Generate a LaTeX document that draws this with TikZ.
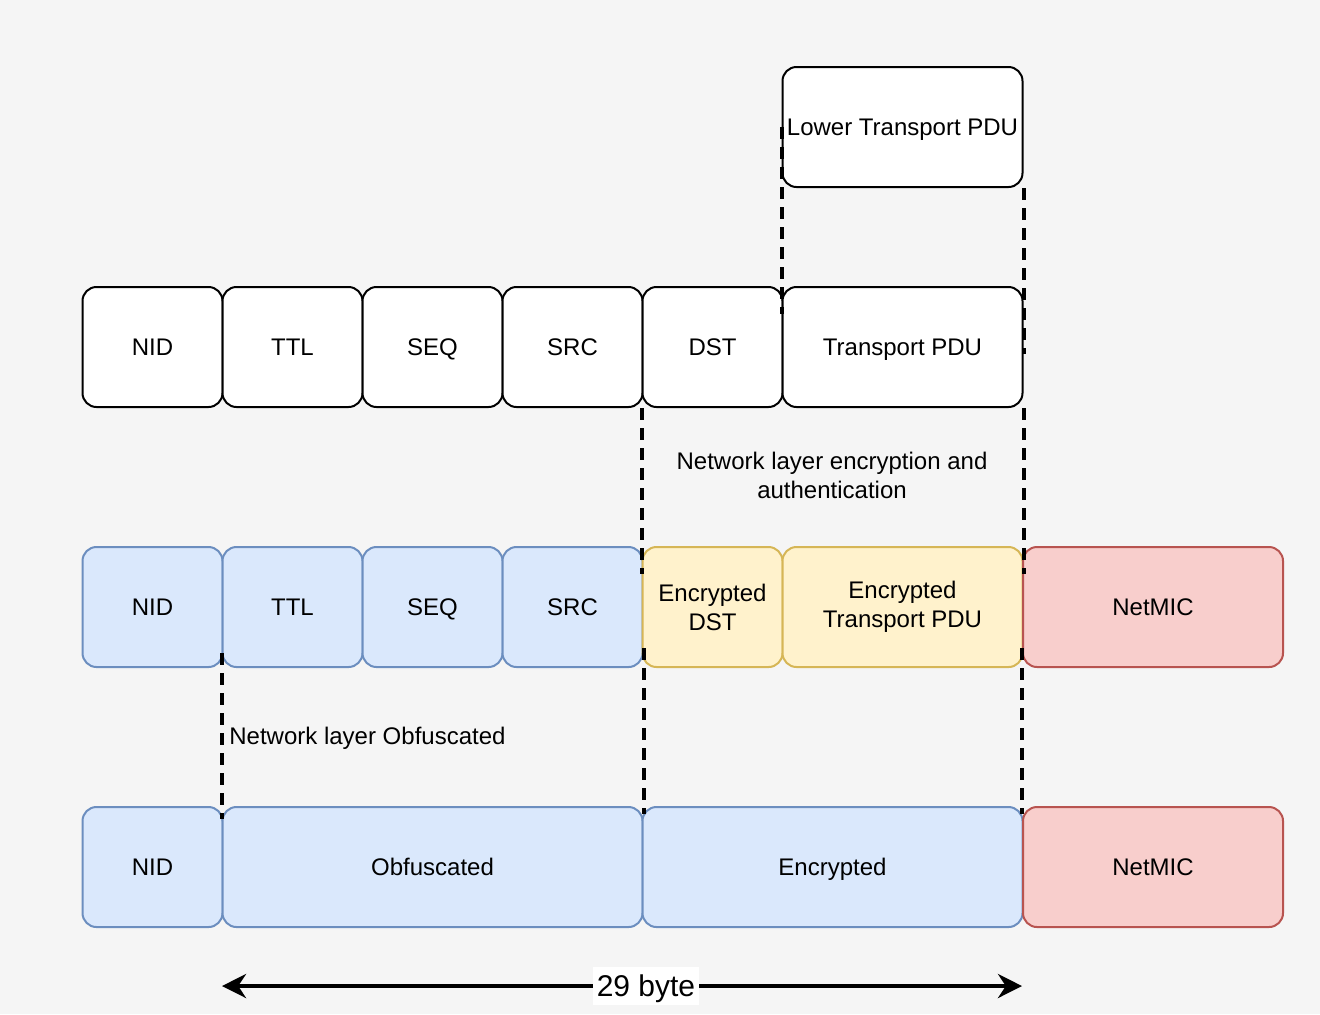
\documentclass[tikz,border=0pt]{standalone}
\usepackage{fontspec}
\setmainfont{Liberation Sans}
\usetikzlibrary{arrows.meta,calc}

\definecolor{bgcol}{HTML}{F5F5F5}
\definecolor{bluefill}{HTML}{DAE8FC}
\definecolor{blueline}{HTML}{6C8EBF}
\definecolor{yellowfill}{HTML}{FFF2CC}
\definecolor{yellowline}{HTML}{D6B656}
\definecolor{redfill}{HTML}{F8CECC}
\definecolor{redline}{HTML}{B85450}

\begin{document}
\begin{tikzpicture}[x=0.5pt,y=-0.5pt,
  cell/.style={rounded corners=7pt,line width=1pt,minimum height=60pt,
    minimum width=70pt,inner sep=0pt,align=center,
    text height=8.6pt,text depth=0pt,
    font=\fontsize{12}{14.5}\selectfont},
  twoline/.style={text height=,text depth=},
  plaincell/.style={cell,draw=black,fill=white},
  bluecell/.style={cell,draw=blueline,fill=bluefill},
  yellowcell/.style={cell,draw=yellowline,fill=yellowfill},
  redcell/.style={cell,draw=redline,fill=redfill},
  link/.style={line width=2pt,dash pattern=on 6pt off 4pt},
  span/.style={line width=2pt,{Stealth[length=12pt,width=12pt]}-{Stealth[length=12pt,width=12pt]}}]
  \fill[bgcol] (0,0) rectangle (1320,1014);
  \useasboundingbox (0,0) rectangle (1320,1014);

  % top
  \node[plaincell,minimum width=120pt] (lpdu) at (902.5,127) {Lower Transport PDU};

  % network PDU
  \node[plaincell] (tnid) at (152.5,347) {NID};
  \node[plaincell] (tttl) at (292.5,347) {TTL};
  \node[plaincell] (tseq) at (432.5,347) {SEQ};
  \node[plaincell] (tsrc) at (572.5,347) {SRC};
  \node[plaincell] (tdst) at (712.5,347) {DST};
  \node[plaincell,minimum width=120pt] (tpdu) at (902.5,347) {Transport PDU};

  % encrypted
  \node[bluecell] (enid) at (152.5,607) {NID};
  \node[bluecell] (ettl) at (292.5,607) {TTL};
  \node[bluecell] (eseq) at (432.5,607) {SEQ};
  \node[bluecell] (esrc) at (572.5,607) {SRC};
  \node[yellowcell,twoline] (edst) at (712.5,607) {Encrypted\\DST};
  \node[yellowcell,twoline,minimum width=120pt] (etpdu) at (902.5,607) {Encrypted\\Transport PDU};
  \node[redcell,minimum width=130pt] (emic) at (1153,607) {NetMIC};

  % obfuscated
  \node[bluecell] (onid) at (152.5,867) {NID};
  \node[bluecell,minimum width=210pt] (obf) at (432.5,867) {Obfuscated};
  \node[bluecell,minimum width=190pt] (enc) at (832.5,867) {Encrypted};
  \node[redcell,minimum width=130pt] (omic) at (1153,867) {NetMIC};

  \draw[link] (lpdu.west) -- ($(tpdu.north west)+(0,28)$);
  \draw[link] (lpdu.south east) -- ($(tpdu.north east)+(0,68)$);
  \draw[link] (tdst.south west) -- ($(edst.north west)+(0,28)$);
  \draw[link] (tpdu.south east) -- ($(etpdu.north east)+(0,28)$);
  \draw[link] ($(enid.south east)+(-2,-15)$) -- ($(onid.north east)+(-2,13)$);
  \draw[link] ($(esrc.south east)+(0,-20)$) -- ($(obf.north east)+(0,8)$);
  \draw[link] ($(etpdu.south east)+(-2,-20)$) -- ($(enc.north east)+(-2,8)$);

  \node[font=\fontsize{12}{14.5}\selectfont,align=center] (enclbl) at (832,475)
    {Network layer encryption and\\authentication};
  \node[font=\fontsize{12}{14.5}\selectfont,anchor=west,inner sep=0pt,
    text height=8.6pt,text depth=0pt] (obflbl) at (229,736)
    {Network layer Obfuscated};

  \coordinate (wl) at (222,986);
  \coordinate (wr) at (1022,986);
  \draw[span] (wl) -- (wr)
    node[pos=0.53,fill=white,inner xsep=2pt,inner ysep=4pt,
      text height=10.8pt,text depth=0pt,font=\fontsize{15}{18}\selectfont] (bytes) {29 byte};
\end{tikzpicture}
\end{document}
